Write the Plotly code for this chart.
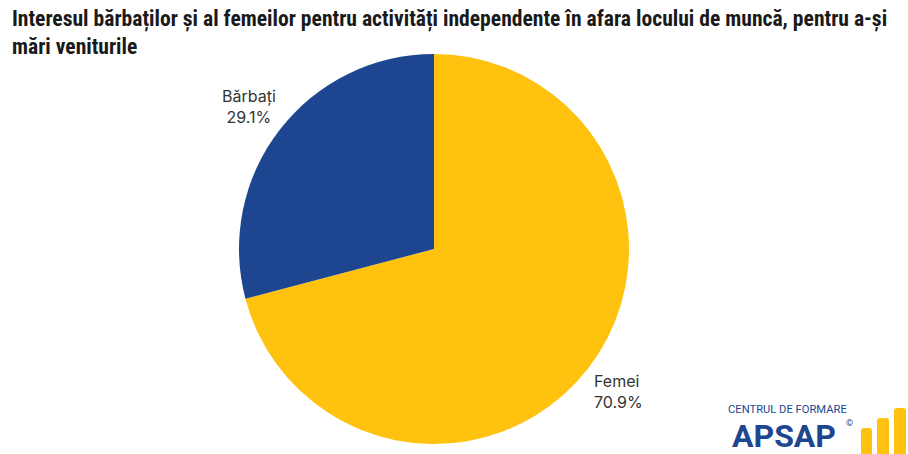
import math
import plotly.graph_objects as go

labels = ["Femei", "Bărbați"]
values = [70.9, 29.1]
colors = ["#FEC20F", "#1E4690"]

title_text = ("Interesul bărbaților și al femeilor pentru activități independente în afara locului de muncă, pentru a-și"
              "<br>mări veniturile")

W, H = 908, 454
cx, cy, R = 434, 249, 195  # pie geometry in pixels (layout only)
label_dist = 233

fig = go.Figure(go.Pie(
    labels=labels,
    values=values,
    marker=dict(colors=colors, line=dict(width=0)),
    sort=False,
    direction="clockwise",
    rotation=0,
    textinfo="none",
    domain=dict(x=[(cx - R) / W, (cx + R) / W], y=[(H - cy - R) / H, (H - cy + R) / H]),
    showlegend=False,
    hoverinfo="label+percent",
))

annotations = [
    dict(text="<b>" + title_text + "</b>", x=10 / W, y=1 - 4 / H, xref="paper", yref="paper",
         xanchor="left", yanchor="top", align="left", showarrow=False,
         font=dict(family="Roboto Condensed, Liberation Sans Narrow, sans-serif", size=21.6, color="#1a1a1a")),
]

# slice labels placed outside at the mid-angle of each slice (computed from the values)
total = sum(values)
start = 0.0
for lab, v in zip(labels, values):
    mid = (start + v / 2) / total * 2 * math.pi  # clockwise from top
    start += v
    px = cx + label_dist * math.sin(mid)
    py = cy - label_dist * math.cos(mid)
    annotations.append(dict(
        text=f"{lab}<br>{v / total * 100:.1f}%", x=px / W, y=1 - py / H, xref="paper", yref="paper",
        xanchor="center", yanchor="middle", align="left" if math.sin(mid) > 0 else "center",
        showarrow=False, font=dict(family="Inter, Roboto, sans-serif", size=16, color="#333333")))

annotations += [
    dict(text="CENTRUL DE FORMARE", x=727 / W, y=1 - 409 / H, xref="paper", yref="paper",
         xanchor="left", yanchor="middle", showarrow=False, borderpad=0,
         font=dict(family="Roboto, sans-serif", size=11.2, color="#1E4690")),
    dict(text="<b>APSAP</b>", x=731 / W, y=1 - 436 / H, xref="paper", yref="paper",
         xanchor="left", yanchor="middle", showarrow=False, borderpad=0,
         font=dict(family="Roboto, sans-serif", size=32, color="#1E4690")),
    dict(text="©", x=849 / W, y=1 - 423 / H, xref="paper", yref="paper",
         xanchor="center", yanchor="middle", showarrow=False,
         font=dict(family="Roboto, sans-serif", size=9, color="#1E4690")),
]

def bar_path(x0, x1, top, bottom, r=3):
    X0, X1 = x0 / W, x1 / W
    T, B = 1 - top / H, 1 - bottom / H
    rx, ry = r / W, r / H
    return (f"M {X0},{B} L {X0},{T - ry} Q {X0},{T} {X0 + rx},{T} L {X1 - rx},{T} "
            f"Q {X1},{T} {X1},{T - ry} L {X1},{B} Z")

shapes = [
    dict(type="path", xref="paper", yref="paper", path=bar_path(861, 872, 428, 454),
         fillcolor="#FEC20F", line=dict(width=0)),
    dict(type="path", xref="paper", yref="paper", path=bar_path(877, 889, 418, 454),
         fillcolor="#FEC20F", line=dict(width=0)),
    dict(type="path", xref="paper", yref="paper", path=bar_path(894, 906, 408, 454),
         fillcolor="#FEC20F", line=dict(width=0)),
]

fig.update_layout(
    width=W, height=H,
    margin=dict(l=0, r=0, t=0, b=0),
    paper_bgcolor="white",
    plot_bgcolor="white",
    annotations=annotations,
    shapes=shapes,
)

fig.write_html("out.html")
